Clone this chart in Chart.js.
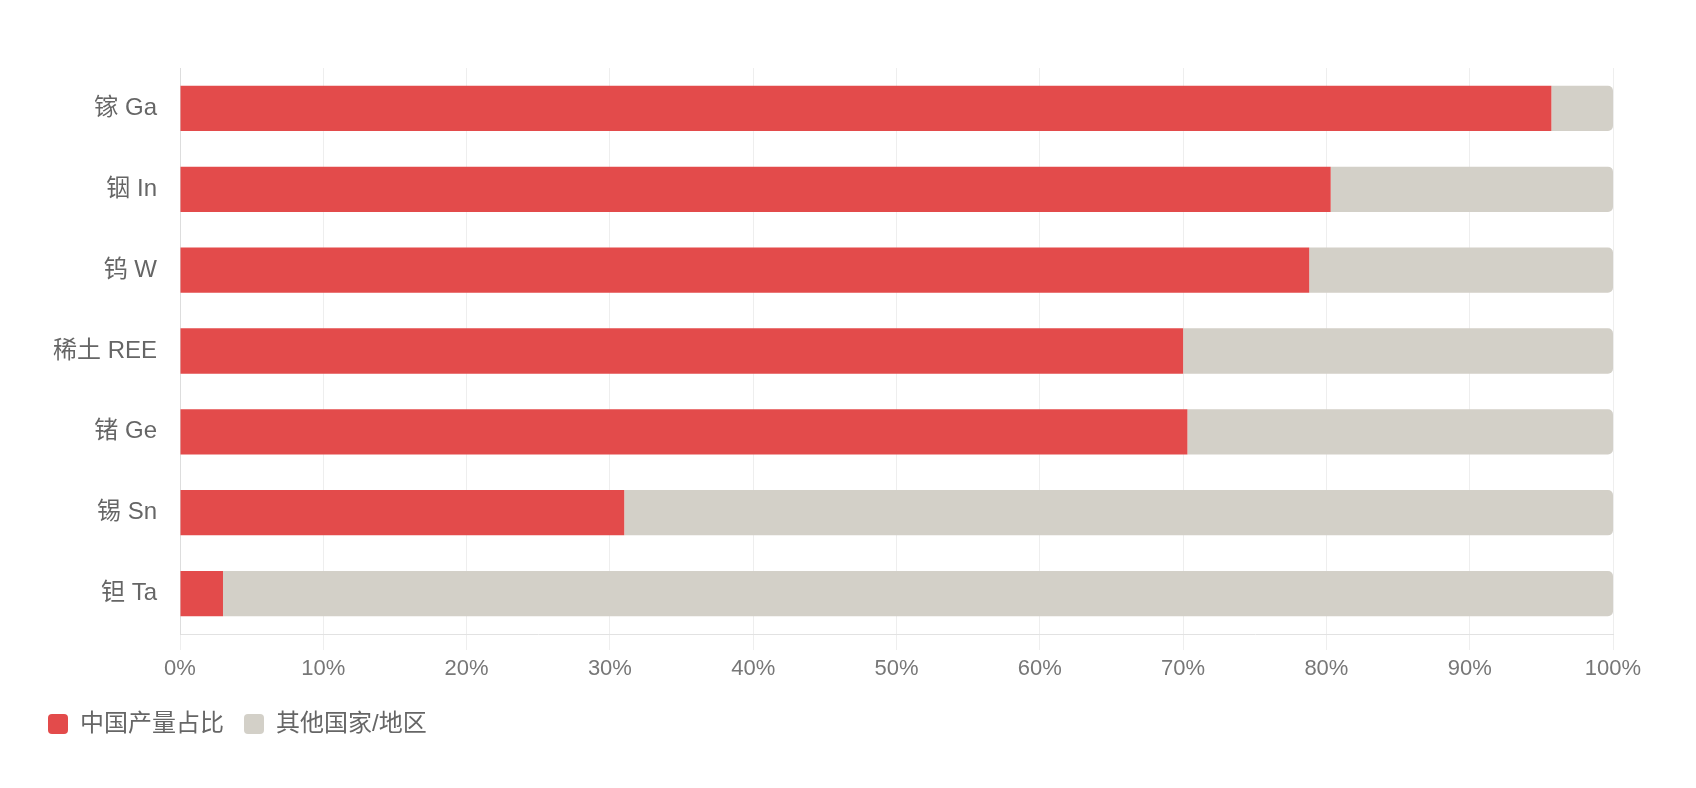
<!DOCTYPE html>
<html>
<head>
<meta charset="utf-8">
<script src="https://cdn.jsdelivr.net/npm/chart.js@4.4.1/dist/chart.umd.min.js"></script>
<style>
  html, body { margin: 0; padding: 0; background: #ffffff; }
  #wrap { width: 1696px; height: 788px; }
</style>
</head>
<body>
<div id="wrap"><canvas id="c" width="1696" height="788"></canvas></div>
<script>
const categories = ['镓 Ga', '铟 In', '钨 W', '稀土 REE', '锗 Ge', '锡 Sn', '钽 Ta'];
const chinaShare = [95.7, 80.3, 78.8, 70.0, 70.3, 31.0, 3.0];
const otherShare = [4.3, 19.7, 21.2, 30.0, 29.7, 69.0, 97.0];
const seriesNames = ['中国产量占比', '其他国家/地区'];
const xTicks = [0, 10, 20, 30, 40, 50, 60, 70, 80, 90, 100];

const FONT = "'Liberation Sans', 'Noto Sans CJK SC', Arial, sans-serif";

new Chart(document.getElementById('c'), {
  type: 'bar',
  data: {
    labels: categories,
    datasets: [
      {
        label: seriesNames[0],
        data: chinaShare,
        backgroundColor: '#e34b4b',
        borderRadius: 0,
        barPercentage: 0.7,
        categoryPercentage: 0.8
      },
      {
        label: seriesNames[1],
        data: otherShare,
        backgroundColor: '#d3d0c8',
        borderRadius: 5,
        borderSkipped: 'start',
        barPercentage: 0.7,
        categoryPercentage: 0.8
      }
    ]
  },
  options: {
    indexAxis: 'y',
    responsive: false,
    animation: false,
    devicePixelRatio: 1,
    layout: { padding: { top: 68, left: 28, right: 83, bottom: 42 } },
    plugins: {
      tooltip: { enabled: false },
      legend: {
        position: 'bottom',
        align: 'start',
        labels: {
          boxWidth: 20,
          boxHeight: 20,
          useBorderRadius: true,
          borderRadius: 4,
          padding: 20,
          color: '#666666',
          font: { family: FONT, size: 24 }
        }
      }
    },
    scales: {
      x: {
        stacked: true,
        min: 0,
        max: 100,
        afterBuildTicks: (scale) => { scale.ticks = xTicks.map(v => ({ value: v })); },
        afterFit: (scale) => { scale.height = 58; },
        grid: {
          color: '#eeeeee',
          lineWidth: 1,
          drawTicks: true,
          tickLength: 16
        },
        border: { color: '#e2e2e2' },
        ticks: {
          padding: 6,
          color: '#777777',
          font: { family: FONT, size: 22 },
          callback: (v) => v + '%'
        }
      },
      y: {
        stacked: true,
        afterFit: (scale) => { scale.width = 152; },
        grid: { display: false, drawTicks: false },
        border: { display: true, color: '#dddddd' },
        ticks: {
          padding: 23,
          color: '#666666',
          font: { family: FONT, size: 24 }
        }
      }
    }
  }
});
</script>
</body>
</html>
